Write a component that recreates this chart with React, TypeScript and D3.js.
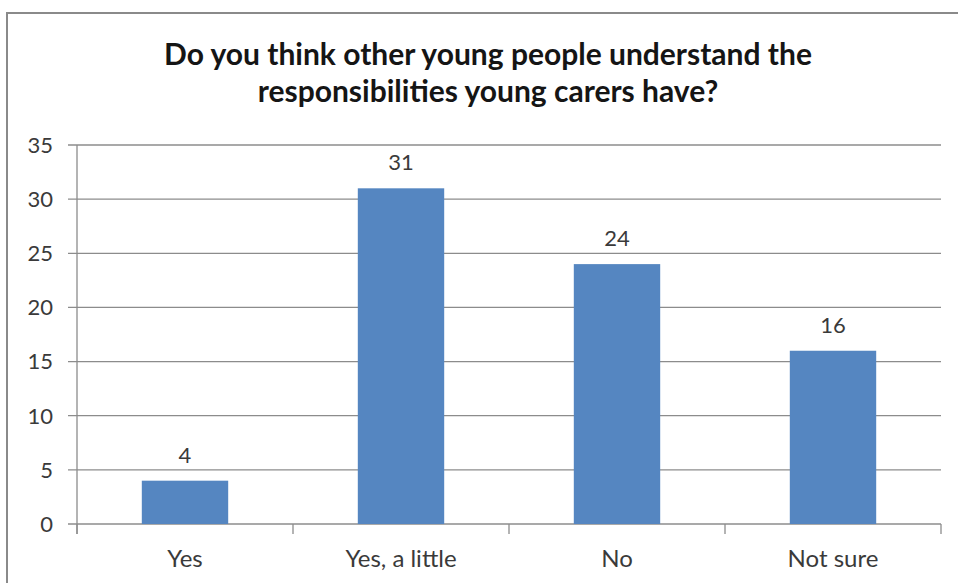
import React from "react";
import * as d3 from "d3";

const categories = ["Yes", "Yes, a little", "No", "Not sure"];
const values = [4, 31, 24, 16];
const yTicks = [0, 5, 10, 15, 20, 25, 30, 35];
const titleLines = [
  "Do you think other young people understand the",
  "responsibilities young carers have?",
];

const W = 958;
const H = 583;
const plot = { left: 77, right: 941, top: 145, bottom: 524 };
const font = "Lato, 'Open Sans', sans-serif";
const textColor = "#3a3a3a";
const gridColor = "#8c8c8c";
const barColor = "#5586c1";

export default function App() {
  const x = d3
    .scaleBand<string>()
    .domain(categories)
    .range([plot.left, plot.right])
    .padding(0);
  const y = d3.scaleLinear().domain([0, 35]).range([plot.bottom, plot.top]);
  const barW = x.bandwidth() * 0.4;
  const boundaries = d3.range(categories.length + 1).map((i) => plot.left + i * x.step());

  return (
    <div style={{ position: "fixed", left: 0, top: 0, width: W, height: H, background: "#fff" }}>
      <svg width={W} height={H} style={{ display: "block" }}>
        <rect x={0} y={0} width={W} height={H} fill="#fff" />
        <rect x={7} y={13} width={W + 20} height={H + 20} fill="#fff" stroke="#8a8a8a" strokeWidth={2} />
        {titleLines.map((t, i) => (
          <text
            key={i}
            x={488}
            y={65 + i * 37}
            textAnchor="middle"
            fontFamily={font}
            fontWeight="bold"
            fontSize={30}
            fill="#151515"
          >
            {t}
          </text>
        ))}
        {yTicks.map((v) => (
          <g key={v}>
            <line x1={plot.left - 9} x2={plot.right} y1={y(v)} y2={y(v)} stroke={gridColor} strokeWidth={1.3} />
            <text
              x={53}
              y={y(v)}
              dy="0.36em"
              textAnchor="end"
              fontFamily={font}
              fontSize={22}
              fill={textColor}
            >
              {v}
            </text>
          </g>
        ))}
        <line x1={plot.left} x2={plot.left} y1={plot.top} y2={plot.bottom + 10} stroke={gridColor} strokeWidth={1.3} />
        {boundaries.map((bx, i) => (
          <line key={i} x1={bx} x2={bx} y1={plot.bottom} y2={plot.bottom + 10} stroke={gridColor} strokeWidth={1.3} />
        ))}
        {categories.map((c, i) => {
          const cx = (x(c) as number) + x.bandwidth() / 2;
          return (
            <g key={c}>
              <rect x={cx - barW / 2} y={y(values[i])} width={barW} height={plot.bottom - y(values[i])} fill={barColor} />
              <text x={cx} y={y(values[i]) - 18} textAnchor="middle" fontFamily={font} fontSize={22} fill={textColor}>
                {values[i]}
              </text>
              <text x={cx} y={567} textAnchor="middle" fontFamily={font} fontSize={24} fill={textColor}>
                {c}
              </text>
            </g>
          );
        })}
      </svg>
    </div>
  );
}
